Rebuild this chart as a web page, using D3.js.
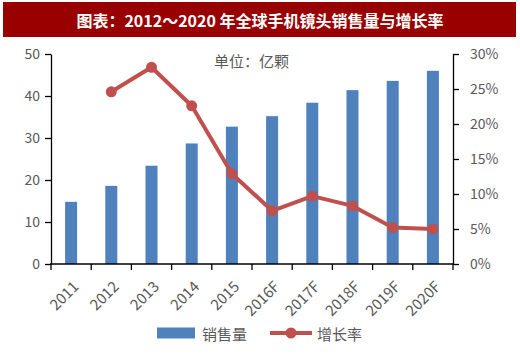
<!DOCTYPE html>
<html><head><meta charset="utf-8">
<script src="https://cdn.jsdelivr.net/npm/d3@7"></script>
<style>
html,body{margin:0;padding:0;background:#fff;}
svg{display:block;}
</style></head>
<body>
<svg id="chart" width="520" height="355"></svg>
<script>
const title = "图表：2012～2020 年全球手机镜头销售量与增长率";
const categories = ["2011","2012","2013","2014","2015","2016F","2017F","2018F","2019F","2020F"];
const sales = [14.8, 18.6, 23.4, 28.7, 32.7, 35.2, 38.4, 41.4, 43.6, 46.0];
const growth = [null, 24.6, 28.1, 22.6, 12.9, 7.6, 9.7, 8.3, 5.2, 5.0];
const leftTicks = [0, 10, 20, 30, 40, 50];
const rightTicks = [0, 5, 10, 15, 20, 25, 30];
const unitLabel = "单位：亿颗";
const seriesNames = ["销售量", "增长率"];

const svg = d3.select("#chart");
const font = "'Noto Sans CJK SC','Noto Sans',sans-serif";
const gray = "#595959";
const blue = "#4F81BD", red = "#C0504D";

// title bar
svg.append("rect").attr("x",3).attr("y",2).attr("width",513).attr("height",35).attr("fill","#990000");
svg.append("text").attr("x",260).attr("y",20).attr("text-anchor","middle").attr("dominant-baseline","central")
  .attr("fill","#fff").attr("font-family",font).attr("font-weight","bold").attr("font-size",16).text(title);

const L = 51, R = 453, T = 54, B = 264;
const x = d3.scaleBand().domain(categories).range([L, R]);
const yL = d3.scaleLinear().domain([0, 50]).range([B, T]);
const yR = d3.scaleLinear().domain([0, 30]).range([B, T]);

// bars
const bw = 12;
svg.append("g").selectAll("rect").data(categories).join("rect")
  .attr("x", d => x(d) + x.bandwidth()/2 - bw/2)
  .attr("y", (d,i) => yL(sales[i]))
  .attr("width", bw)
  .attr("height", (d,i) => B - yL(sales[i]))
  .attr("fill", blue);

// line
const pts = categories.map((c,i)=>({c, v: growth[i]})).filter(d=>d.v!==null);
const line = d3.line().x(d => x(d.c) + x.bandwidth()/2).y(d => yR(d.v));
svg.append("path").datum(pts).attr("d", line).attr("fill","none").attr("stroke",red).attr("stroke-width",4).attr("stroke-linejoin","round");
svg.append("g").selectAll("circle").data(pts).join("circle")
  .attr("cx", d => x(d.c) + x.bandwidth()/2).attr("cy", d => yR(d.v)).attr("r", 5.5).attr("fill", red);

// axes
const axStyle = g => {
  g.selectAll("path,line").attr("stroke","#000").attr("stroke-width",1.3);
  g.selectAll("text").attr("fill",gray).attr("font-family",font).attr("font-size",14);
};
const gl = svg.append("g").attr("transform",`translate(${L},0)`)
  .call(d3.axisLeft(yL).tickValues(leftTicks).tickSize(6).tickSizeOuter(0).tickPadding(5));
axStyle(gl);
const gr = svg.append("g").attr("transform",`translate(${R},0)`)
  .call(d3.axisRight(yR).tickValues(rightTicks).tickFormat(d => d + "%").tickSize(6).tickSizeOuter(0).tickPadding(11));
axStyle(gr);

// bottom axis with boundary ticks
const gb = svg.append("g");
gb.append("line").attr("x1",L-1).attr("x2",R+1).attr("y1",B).attr("y2",B).attr("stroke","#000").attr("stroke-width",1.3);
const bounds = categories.map(c => x(c)).concat([R]);
gb.selectAll("line.tk").data(bounds).join("line").attr("class","tk")
  .attr("x1", d=>d).attr("x2", d=>d).attr("y1", B).attr("y2", B+6).attr("stroke","#000").attr("stroke-width",1.3);
gb.selectAll("text").data(categories).join("text")
  .attr("transform", d => `translate(${x(d) + x.bandwidth()/2 + 4},${B + 19}) rotate(-45)`)
  .attr("text-anchor","end").attr("dominant-baseline","central")
  .attr("fill",gray).attr("font-family",font).attr("font-size",15).text(d=>d);

// unit label
svg.append("text").attr("x",214).attr("y",60).attr("dominant-baseline","central")
  .attr("fill",gray).attr("font-family",font).attr("font-size",15).text(unitLabel);

// legend
const ly = 333;
svg.append("rect").attr("x",157).attr("y",ly-5.5).attr("width",38).attr("height",11).attr("fill",blue);
svg.append("text").attr("x",202).attr("y",ly).attr("dominant-baseline","central")
  .attr("fill",gray).attr("font-family",font).attr("font-size",15).text(seriesNames[0]);
svg.append("line").attr("x1",270).attr("x2",312).attr("y1",ly).attr("y2",ly).attr("stroke",red).attr("stroke-width",4);
svg.append("circle").attr("cx",291).attr("cy",ly).attr("r",5.5).attr("fill",red);
svg.append("text").attr("x",317).attr("y",ly).attr("dominant-baseline","central")
  .attr("fill",gray).attr("font-family",font).attr("font-size",15).text(seriesNames[1]);
</script>
</body></html>
